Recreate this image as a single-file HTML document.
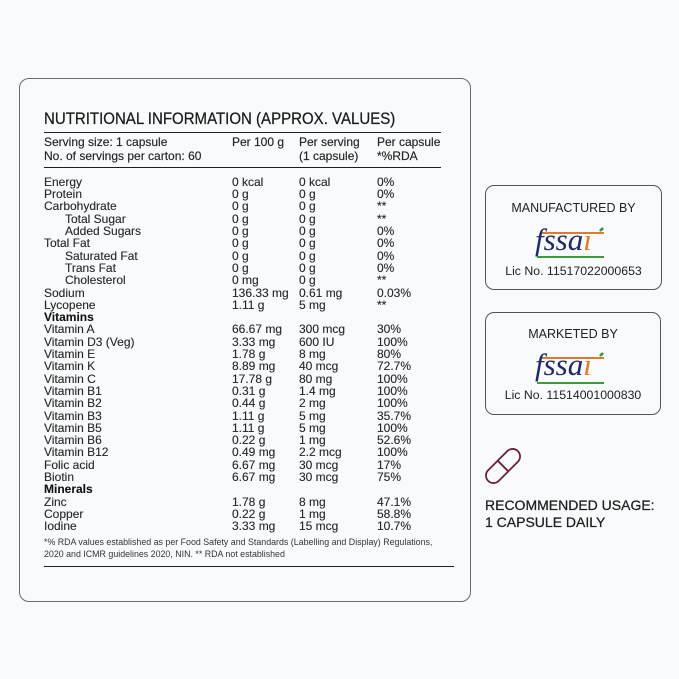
<!DOCTYPE html>
<html>
<head>
<meta charset="utf-8">
<style>
  html,body{margin:0;padding:0;}
  body{width:679px;height:679px;background:#f9fafc;position:relative;overflow:hidden;font-family:"Liberation Sans",sans-serif;color:#2a2a2a;}
  .box{position:absolute;border:1.3px solid #6a6a6a;box-sizing:border-box;background:#f9fafc;}
  .main{left:19px;top:78px;width:452px;height:524px;border-radius:10px;}
  .title{position:absolute;left:44px;top:109px;font-size:17px;line-height:20px;white-space:nowrap;color:#1a1a1a;transform:scaleX(0.884);transform-origin:0 0;-webkit-text-stroke:0.25px #1a1a1a;}
  .hr{position:absolute;left:44px;background:#1e1e1e;height:1.5px;}
  .hdr{position:absolute;top:135px;font-size:12px;line-height:14px;white-space:nowrap;color:#222;-webkit-text-stroke:0.15px #222;}
  .rows{position:absolute;left:44px;top:175.9px;width:400px;font-size:12px;color:#262626;-webkit-text-stroke:0.12px #262626;}
  .row{position:relative;height:12.31px;line-height:12.31px;white-space:nowrap;}
  .row span{position:absolute;top:0;}
  .c1{left:0}.ci{left:21px}.c2{left:188px}.c3{left:255px}.c4{left:333px}
  .b{font-weight:bold;color:#111;}
  .foot{position:absolute;left:44px;top:536px;font-size:8.85px;line-height:12px;color:#333;white-space:nowrap;}
  .side{border-radius:9px;border-color:#555;}
  .lbl{position:absolute;width:100%;text-align:center;font-size:12.5px;color:#222;white-space:nowrap;}
  .lic{position:absolute;width:100%;text-align:center;font-size:12.3px;color:#222;white-space:nowrap;}
  .logo{position:absolute;width:80px;height:40px;}
  .logo .ol{position:absolute;left:5px;width:64px;height:1.6px;background:#e07a2e;}
  .logo .gl{position:absolute;left:2px;width:67px;height:1.6px;background:#3d9b3a;}
  .logo .t{position:absolute;left:0;font-family:"Liberation Serif",serif;font-style:italic;font-size:31px;color:#1f2a66;line-height:31px;white-space:nowrap;}
  .logo .t .o{color:#e07a2e;}
  .logo .leaf{position:absolute;width:5px;height:3px;background:#3d9b3a;border-radius:50%;transform:rotate(-40deg);}
  .rec{position:absolute;left:485px;top:497px;font-size:14px;line-height:17px;color:#1e1e1e;white-space:nowrap;-webkit-text-stroke:0.25px #1e1e1e;}
</style>
</head>
<body>
<div class="box main"></div>
<div class="title">NUTRITIONAL INFORMATION (APPROX. VALUES)</div>
<div class="hr" style="top:131.5px;width:397px;"></div>
<div class="hdr" style="left:44px;">Serving size: 1 capsule<br>No. of servings per carton: 60</div>
<div class="hdr" style="left:232px;">Per 100 g</div>
<div class="hdr" style="left:299px;">Per serving<br>(1 capsule)</div>
<div class="hdr" style="left:377px;">Per capsule<br>*%RDA</div>
<div class="hr" style="top:166.5px;width:397px;"></div>

<div class="rows">
  <div class="row"><span class="c1">Energy</span><span class="c2">0 kcal</span><span class="c3">0 kcal</span><span class="c4">0%</span></div>
  <div class="row"><span class="c1">Protein</span><span class="c2">0 g</span><span class="c3">0 g</span><span class="c4">0%</span></div>
  <div class="row"><span class="c1">Carbohydrate</span><span class="c2">0 g</span><span class="c3">0 g</span><span class="c4">**</span></div>
  <div class="row"><span class="ci">Total Sugar</span><span class="c2">0 g</span><span class="c3">0 g</span><span class="c4">**</span></div>
  <div class="row"><span class="ci">Added Sugars</span><span class="c2">0 g</span><span class="c3">0 g</span><span class="c4">0%</span></div>
  <div class="row"><span class="c1">Total Fat</span><span class="c2">0 g</span><span class="c3">0 g</span><span class="c4">0%</span></div>
  <div class="row"><span class="ci">Saturated Fat</span><span class="c2">0 g</span><span class="c3">0 g</span><span class="c4">0%</span></div>
  <div class="row"><span class="ci">Trans Fat</span><span class="c2">0 g</span><span class="c3">0 g</span><span class="c4">0%</span></div>
  <div class="row"><span class="ci">Cholesterol</span><span class="c2">0 mg</span><span class="c3">0 g</span><span class="c4">**</span></div>
  <div class="row"><span class="c1">Sodium</span><span class="c2">136.33 mg</span><span class="c3">0.61 mg</span><span class="c4">0.03%</span></div>
  <div class="row"><span class="c1">Lycopene</span><span class="c2">1.11 g</span><span class="c3">5 mg</span><span class="c4">**</span></div>
  <div class="row"><span class="c1 b">Vitamins</span></div>
  <div class="row"><span class="c1">Vitamin A</span><span class="c2">66.67 mg</span><span class="c3">300 mcg</span><span class="c4">30%</span></div>
  <div class="row"><span class="c1">Vitamin D3 (Veg)</span><span class="c2">3.33 mg</span><span class="c3">600 IU</span><span class="c4">100%</span></div>
  <div class="row"><span class="c1">Vitamin E</span><span class="c2">1.78 g</span><span class="c3">8 mg</span><span class="c4">80%</span></div>
  <div class="row"><span class="c1">Vitamin K</span><span class="c2">8.89 mg</span><span class="c3">40 mcg</span><span class="c4">72.7%</span></div>
  <div class="row"><span class="c1">Vitamin C</span><span class="c2">17.78 g</span><span class="c3">80 mg</span><span class="c4">100%</span></div>
  <div class="row"><span class="c1">Vitamin B1</span><span class="c2">0.31 g</span><span class="c3">1.4 mg</span><span class="c4">100%</span></div>
  <div class="row"><span class="c1">Vitamin B2</span><span class="c2">0.44 g</span><span class="c3">2 mg</span><span class="c4">100%</span></div>
  <div class="row"><span class="c1">Vitamin B3</span><span class="c2">1.11 g</span><span class="c3">5 mg</span><span class="c4">35.7%</span></div>
  <div class="row"><span class="c1">Vitamin B5</span><span class="c2">1.11 g</span><span class="c3">5 mg</span><span class="c4">100%</span></div>
  <div class="row"><span class="c1">Vitamin B6</span><span class="c2">0.22 g</span><span class="c3">1 mg</span><span class="c4">52.6%</span></div>
  <div class="row"><span class="c1">Vitamin B12</span><span class="c2">0.49 mg</span><span class="c3">2.2 mcg</span><span class="c4">100%</span></div>
  <div class="row"><span class="c1">Folic acid</span><span class="c2">6.67 mg</span><span class="c3">30 mcg</span><span class="c4">17%</span></div>
  <div class="row"><span class="c1">Biotin</span><span class="c2">6.67 mg</span><span class="c3">30 mcg</span><span class="c4">75%</span></div>
  <div class="row"><span class="c1 b">Minerals</span></div>
  <div class="row"><span class="c1">Zinc</span><span class="c2">1.78 g</span><span class="c3">8 mg</span><span class="c4">47.1%</span></div>
  <div class="row"><span class="c1">Copper</span><span class="c2">0.22 g</span><span class="c3">1 mg</span><span class="c4">58.8%</span></div>
  <div class="row"><span class="c1">Iodine</span><span class="c2">3.33 mg</span><span class="c3">15 mcg</span><span class="c4">10.7%</span></div>
</div>

<div class="foot">*% RDA values established as per Food Safety and Standards (Labelling and Display) Regulations,<br>2020 and ICMR guidelines 2020, NIN. ** RDA not established</div>
<div class="hr" style="top:565.5px;width:410px;"></div>

<!-- Manufactured box -->
<div class="box side" style="left:485px;top:185px;width:177px;height:105px;">
  <div class="lbl" style="top:15px;">MANUFACTURED BY</div>
  <div class="logo" style="left:49px;top:37px;">
    <div class="ol" style="top:9px;"></div>
    <div class="t" style="top:1px;">fssa<span class="o">ı</span></div>
    <div class="leaf" style="left:64px;top:5px;"></div>
    <div class="gl" style="top:33px;"></div>
  </div>
  <div class="lic" style="top:78px;">Lic No. 11517022000653</div>
</div>

<!-- Marketed box -->
<div class="box side" style="left:485px;top:312px;width:176px;height:103px;">
  <div class="lbl" style="top:14px;">MARKETED BY</div>
  <div class="logo" style="left:49px;top:36px;">
    <div class="ol" style="top:8px;"></div>
    <div class="t" style="top:0px;">fssa<span class="o">ı</span></div>
    <div class="leaf" style="left:64px;top:4px;"></div>
    <div class="gl" style="top:33px;"></div>
  </div>
  <div class="lic" style="top:75px;">Lic No. 11514001000830</div>
</div>

<!-- Capsule icon -->
<svg style="position:absolute;left:482px;top:446px;" width="42" height="40" viewBox="0 0 42 40">
  <g transform="translate(21,20) rotate(-45)">
    <rect x="-21" y="-7.5" width="42" height="15" rx="7.5" ry="7.5" fill="none" stroke="#6b1f40" stroke-width="1.8"/>
    <line x1="0" y1="-7.5" x2="0" y2="7.5" stroke="#6b1f40" stroke-width="1.8"/>
  </g>
</svg>

<div class="rec">RECOMMENDED USAGE:<br>1 CAPSULE DAILY</div>
</body>
</html>
